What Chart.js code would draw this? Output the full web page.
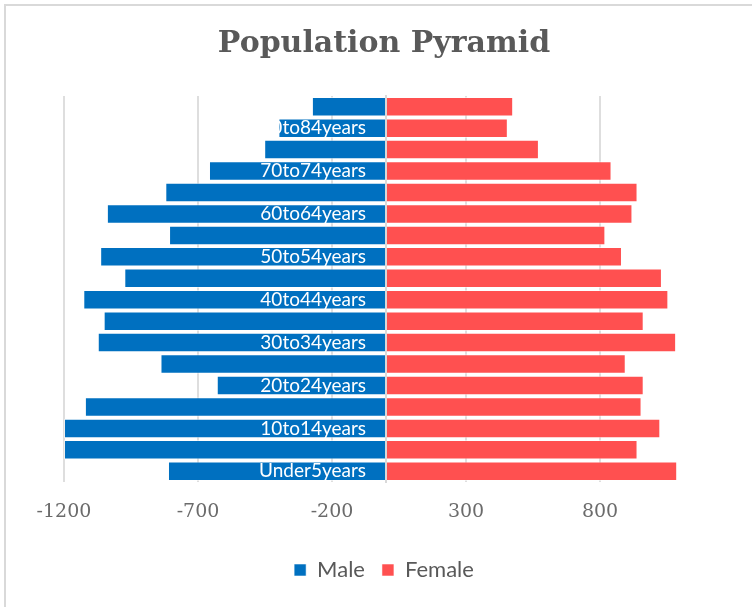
<!DOCTYPE html>
<html>
<head>
<meta charset="utf-8">
<title>Population Pyramid</title>
<script src="https://cdn.jsdelivr.net/npm/chart.js@4.4.0/dist/chart.umd.min.js"></script>
<style>
    html, body { margin: 0; padding: 0; background: #fff; }
    #chartcanvas { display: block; }
</style>
</head>
<body>
<canvas id="chartcanvas" width="752" height="607"></canvas>
<script>
// bottom to top
var ageGroups = [
    'Under5years', '5to9years', '10to14years', '15to19years', '20to24years',
    '25to29years', '30to34years', '35to39years', '40to44years', '45to49years',
    '50to54years', '55to59years', '60to64years', '65to69years', '70to74years',
    '75to79years', '80to84years', '85+years'
];
var maleValues = [
    -812, -1200, -1200, -1122, -630, -840, -1074, -1052, -1128,
    -975, -1065, -808, -1040, -822, -659, -453, -400, -275
];
var femaleValues = [
    1088, 940, 1025, 955, 963, 896, 1084, 963, 1055,
    1031, 882, 820, 921, 940, 843, 572, 456, 476
];
var xTickValues = [-1200, -700, -200, 300, 800];

const frame = {
    id: 'chartFrame',
    beforeDraw: (chart) => {
        const {ctx} = chart;
        ctx.save();
        ctx.fillStyle = '#fff';
        ctx.fillRect(0, 0, chart.width, chart.height);
        ctx.strokeStyle = '#d9d9d9';
        ctx.lineWidth = 2;
        ctx.beginPath();
        ctx.moveTo(5, chart.height);
        ctx.lineTo(5, 5);
        ctx.lineTo(chart.width, 5);
        ctx.stroke();
        ctx.restore();
    }
};

// category names sit inside the male bars, every second one
function everyOther(value, index) {
    return index % 2 === 0 ? this.getLabelForValue(value) : '';
}

let ctx = document.getElementById('chartcanvas');

new Chart(ctx, {
    type: 'bar',
    data: {
        labels: ageGroups,
        datasets: [
            {
                label: 'Male',
                data: maleValues,
                backgroundColor: '#0070c0',
                borderColor: 'rgba(255,255,255,0.55)',
                borderWidth: 1,
            }, {
                label: 'Female',
                data: femaleValues,
                backgroundColor: '#ff5050',
                borderColor: 'rgba(255,255,255,0.55)',
                borderWidth: 1,
            }
        ],
    },
    options: {
        responsive: false,
        animation: false,
        indexAxis: 'y',
        datasets: {
            bar: {
                categoryPercentage: 1,
                barPercentage: 0.91,
            },
        },
        layout: {
            padding: { left: 64, right: 48, top: 10, bottom: 16 },
        },
        plugins: {
            title: {
                display: true,
                text: 'Population Pyramid',
                color: '#595959',
                font: { family: 'DejaVu Serif', size: 30, weight: 'bold' },
                padding: { top: 16, bottom: 34 },
            },
            legend: {
                position: 'bottom',
                labels: {
                    color: '#595959',
                    font: { family: 'Lato', size: 22 },
                    boxWidth: 12,
                    boxHeight: 12,
                    padding: 17,
                },
            },
            tooltip: { enabled: false },
        },
        scales: {
            x: {
                type: 'linear',
                stacked: true,
                min: -1200,
                max: 1188,
                afterBuildTicks: (scale) => {
                    scale.ticks = xTickValues.map(v => ({ value: v }));
                },
                grid: {
                    color: '#dedede',
                    lineWidth: 2,
                    drawTicks: false,
                },
                border: { display: false },
                ticks: {
                    color: '#6b6b6b',
                    font: { family: 'DejaVu Serif', size: 19 },
                    padding: 18.6,
                    callback: (v) => String(v),
                },
            },
            y: {
                stacked: true,
                reverse: true,
                position: { x: 0 },
                grid: { display: false, drawTicks: false },
                border: { display: true, color: '#d9d9d9', width: 2, z: 1 },
                ticks: { display: false },
            },
            yLabels: {
                type: 'category',
                axis: 'y',
                reverse: true,
                offset: true,
                position: { x: -73 },
                grid: { display: false, drawTicks: false },
                border: { display: false },
                ticks: {
                    z: 1,
                    autoSkip: false,
                    color: '#ffffff',
                    font: { family: 'Lato', size: 19 },
                    padding: 0,
                    callback: everyOther,
                },
            },
        },
    },
    plugins: [frame],
});
</script>
</body>
</html>
